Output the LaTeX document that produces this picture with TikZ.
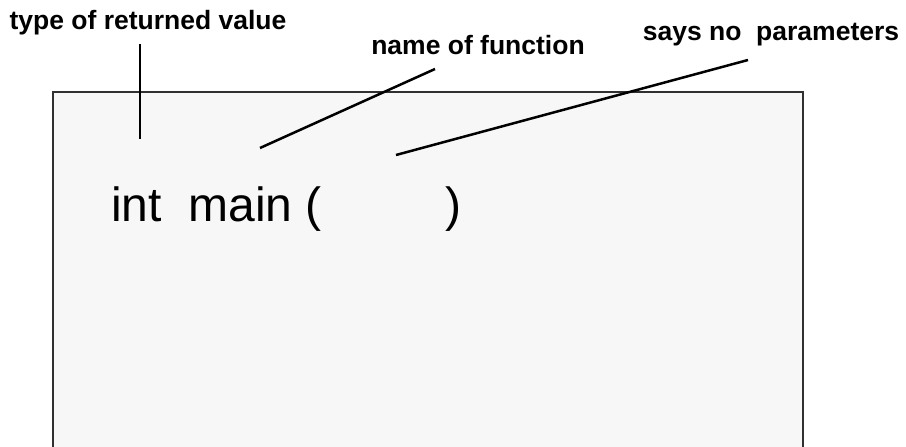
\documentclass[tikz,border=0pt]{standalone}
\usepackage{fontspec}
\setmainfont{Liberation Sans}
\definecolor{panel}{HTML}{F7F7F7}
\definecolor{edgegray}{HTML}{303030}

\begin{document}
\begin{tikzpicture}[x=1pt,y=-1pt,
	note/.style={inner sep=0pt,font=\fontsize{26.5}{30}\selectfont\bfseries},
	code/.style={inner sep=0pt,font=\fontsize{48}{54}\selectfont},
	pointer/.style={line width=2.5pt}]
	\useasboundingbox (0,0) rectangle (906,447);
	% the page
	\path[fill=panel,draw=edgegray,line width=1.3pt] (53,92) rectangle (803,470);
	% labels
	\node[note,anchor=base] (type) at (148,30) {type of returned value};
	\node[note,anchor=base] (name) at (478,54) {name of function};
	\node[note,anchor=base] (says) at (771,40) {says no\ \ parameters};
	\node[code,anchor=base west] (sig) at (111,221) {int\ \ main (\hspace{124pt})};
	% pointers
	\coordinate (t1) at (140,44);
	\coordinate (t2) at (140,139);
	\coordinate (n1) at (435,69);
	\coordinate (n2) at (260,148);
	\coordinate (s1) at (748,60);
	\coordinate (s2) at (396,155);
    \path[pointer] (t1) edge (t2);
    \path[pointer] (n1) edge (n2);
    \path[pointer] (s1) edge (s2);
\end{tikzpicture}
\end{document}
